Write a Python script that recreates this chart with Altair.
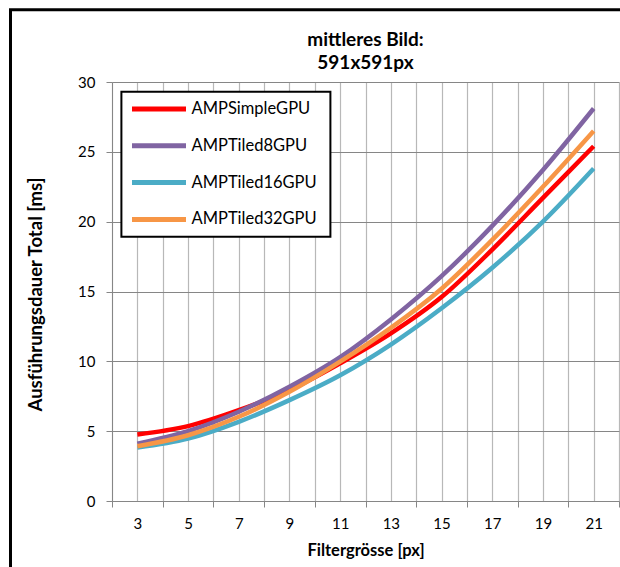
import altair as alt
import pandas as pd

# ---- data ----
filter_sizes = [3, 5, 7, 9, 11, 13, 15, 17, 19, 21]
amp_simple = [4.76, 5.36, 6.5, 7.94, 9.86, 12.0, 14.6, 18.0, 21.7, 25.4]
amp_tiled8 = [4.11, 5.0, 6.39, 8.18, 10.3, 13.0, 16.1, 19.7, 23.7, 28.1]
amp_tiled16 = [3.83, 4.47, 5.67, 7.22, 9.0, 11.2, 13.8, 16.7, 20.0, 23.8]
amp_tiled32 = [3.92, 4.71, 6.03, 7.82, 9.98, 12.4, 15.2, 18.7, 22.5, 26.5]

series_names = ["AMPSimpleGPU", "AMPTiled8GPU", "AMPTiled16GPU", "AMPTiled32GPU"]
series_values = [amp_simple, amp_tiled8, amp_tiled16, amp_tiled32]
series_colors = ["#FF0000", "#8064A2", "#4BACC6", "#F79646"]

title_lines = "mittleres Bild:\n591x591px"
y_ticks = [0, 5, 10, 15, 20, 25, 30]
x_grid = list(range(2, 23))

rows = []
for name, vals in zip(series_names, series_values):
    for fs, v in zip(filter_sizes, vals):
        rows.append({"Filtergrösse": fs, "Dauer": v, "Serie": name})
df = pd.DataFrame(rows)

FONT = "Lato"

lines = alt.Chart(df).mark_line(strokeWidth=4.5, interpolate="monotone").encode(
    x=alt.X(
        "Filtergrösse:Q",
        scale=alt.Scale(domain=[2, 22], nice=False, zero=False),
        axis=alt.Axis(
            values=x_grid,
            labelExpr="datum.value % 2 == 1 ? datum.label : ''",
            labelOverlap=False,
            labelFlush=False,
            tickOpacity={"condition": {"test": "datum.value % 2 == 0", "value": 1}, "value": 0},
            tickSize=6,
            tickColor="#868686",
            domainColor="#868686",
            grid=True,
            gridColor="#b8b8b8",
            gridWidth=1.2,
            labelFontSize=15,
            labelPadding=9,
            labelColor="#000000",
            title="Filtergrösse [px]",
            titleFontSize=16.5,
            titleFontWeight="bold",
            titleBaseline="middle",
            titleY=49,
            titleColor="#000000",
        ),
    ),
    y=alt.Y(
        "Dauer:Q",
        scale=alt.Scale(domain=[0, 30], nice=False),
        axis=alt.Axis(
            values=y_ticks,
            tickSize=6,
            tickColor="#868686",
            domainColor="#868686",
            grid=True,
            gridColor="#868686",
            gridWidth=1.2,
            labelFontSize=15,
            labelPadding=11,
            labelColor="#000000",
            title="Ausführungsdauer Total [ms]",
            titleFontSize=18.5,
            titleFontWeight="bold",
            titleAngle=270,
            titleBaseline="middle",
            titleAlign="center",
            titleX=-77,
            titleY=212,
            titleColor="#000000",
        ),
    ),
    color=alt.Color(
        "Serie:N",
        scale=alt.Scale(domain=series_names, range=series_colors),
        sort=series_names,
        legend=alt.Legend(
            title="\u00a0",
            titleOrient="right",
            titlePadding=8,
            titleFontSize=10,
            orient="none",
            legendX=9.4,
            legendY=9.7,
            symbolType="stroke",
            symbolSize=2916,
            symbolStrokeWidth=5,
            symbolOffset=2.8,
            clipHeight=24,
            rowPadding=12.8,
            padding=5.3,
            labelOffset=3,
            labelFontSize=16.5,
            labelFont=FONT,
            labelColor="#000000",
            strokeColor="#000000",
            fillColor="#ffffff",
        ),
    ),
)

frame = alt.Chart(pd.DataFrame({"a": [0]})).mark_rect(
    filled=False, stroke="#000000", strokeWidth=3
).encode(
    x=alt.value(-101.5), y=alt.value(-72.3), x2=alt.value(700), y2=alt.value(700)
)

title = alt.Chart(pd.DataFrame({"t": [title_lines]})).mark_text(
    font=FONT, fontSize=19, fontWeight="bold", lineBreak="\n", lineHeight=23,
    align="center", baseline="alphabetic", color="#000000"
).encode(
    text="t:N", x=alt.value(253.5), y=alt.value(-36)
)

chart = alt.layer(lines, frame, title).properties(
    width=507,
    height=419,
    padding={"left": 112, "top": 82, "right": 1, "bottom": 66},
    autosize=alt.AutoSizeParams(type="none"),
    background="#ffffff",
).configure_view(stroke="transparent").configure_axis(
    labelFont=FONT, titleFont=FONT
).configure_legend(strokeWidth=2)

chart.save("out.html", embed_options={"renderer": "svg", "actions": False})
